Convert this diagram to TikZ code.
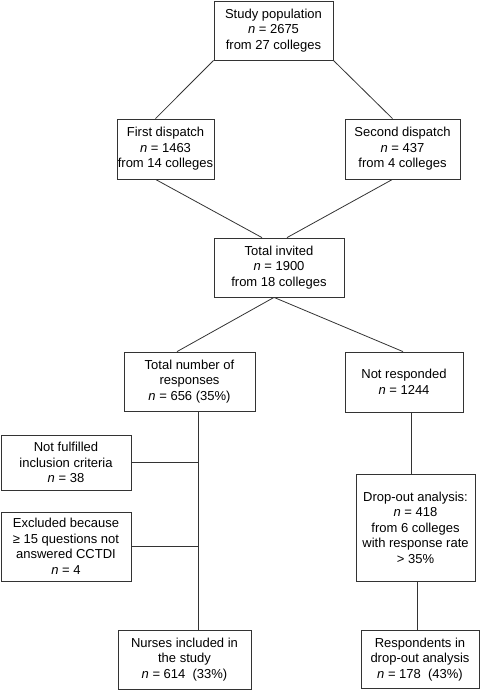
\documentclass[tikz,border=0pt]{standalone}
\usepackage{fontspec}
\setmainfont{Liberation Sans}
\usepackage{tikz}
\usetikzlibrary{positioning}
\tikzset{%
  every box/.style={
    draw=black!80,
    line width=0.8pt,
    align=center,
    inner sep=0pt,
    font=\fontsize{13}{15.5}\selectfont
  },
  link/.style={
    draw=black!80,
    line width=0.8pt
  },
}
\newcommand{\nn}{\textit{n}}

\begin{document}
\begin{tikzpicture}[x=1pt, y=-1pt]
\useasboundingbox (0,0) rectangle (480,690);
\node[every box, minimum width=119pt, minimum height=59pt] (box_pop) at (273.5,30.5) {Study population\\\nn{} = 2675\\from 27 colleges};
\node[every box, minimum width=97pt, minimum height=60pt] (box_first) at (165.5,149) {First dispatch\\\nn{} = 1463\\from 14 colleges};
\node[every box, minimum width=115pt, minimum height=60pt] (box_second) at (402.5,149) {Second dispatch\\\nn{} = 437\\from 4 colleges};
\node[every box, minimum width=130pt, minimum height=59pt] (box_invited) at (279,267.5) {Total invited\\\nn{} = 1900\\from 18 colleges};
\node[every box, minimum width=131pt, minimum height=59pt] (box_resp) at (189.5,381.5) {Total number of\\responses\\\nn{} = 656 (35\%)};
\node[every box, minimum width=118pt, minimum height=60pt] (box_noresp) at (404,382) {Not responded\\\nn{} = 1244};
\node[every box, minimum width=130pt, minimum height=55pt] (box_notful) at (66,462.5) {Not fulfilled\\inclusion criteria\\\nn{} = 38};
\node[every box, minimum width=130pt, minimum height=69pt] (box_excl) at (66,546.5) {Excluded because\\≥ 15 questions not\\answered CCTDI\\\nn{} = 4};
\node[every box, minimum width=119pt, minimum height=107pt] (box_drop) at (415.5,527.5) {Drop-out analysis:\\\nn{} = 418\\from 6 colleges\\with response rate\\> 35\%};
\node[every box, minimum width=133pt, minimum height=59pt] (box_nurses) at (184.5,659.5) {Nurses included in\\the study\\\nn{} = 614\ \ (33\%)};
\node[every box, minimum width=118pt, minimum height=58pt] (box_dresp) at (420,659.5) {Respondents in\\drop-out analysis\\\nn{} = 178\ \ (43\%)};
\coordinate (spine) at ([xshift=8.5pt]box_resp.south);
\coordinate (drop_in) at ([xshift=7pt]box_noresp.south);
\coordinate (drop_out) at ([xshift=1.5pt]box_drop.south);
\draw[link] (box_pop.south west) -- ([xshift=-10pt]box_first.north);
\draw[link] (box_pop.south east) -- ([xshift=-10pt]box_second.north);
\draw[link] ([xshift=-10pt]box_first.south) -- ([xshift=-17pt]box_invited.north);
\draw[link] ([xshift=-10pt]box_second.south) -- ([xshift=8pt]box_invited.north);
\draw[link] ([xshift=-5pt]box_invited.south) -- ([xshift=-12.5pt]box_resp.north);
\draw[link] ([xshift=-5pt]box_invited.south) -- ([xshift=-1pt]box_noresp.north);
\draw[link] (spine) -- (spine |- box_nurses.north);
\draw[link] (box_notful.east) -- (box_notful.east -| spine);
\draw[link] (box_excl.east) -- (box_excl.east -| spine);
\draw[link] (drop_in) -- (drop_in |- box_drop.north);
\draw[link] (drop_out) -- (drop_out |- box_dresp.north);
\end{tikzpicture}
\end{document}
